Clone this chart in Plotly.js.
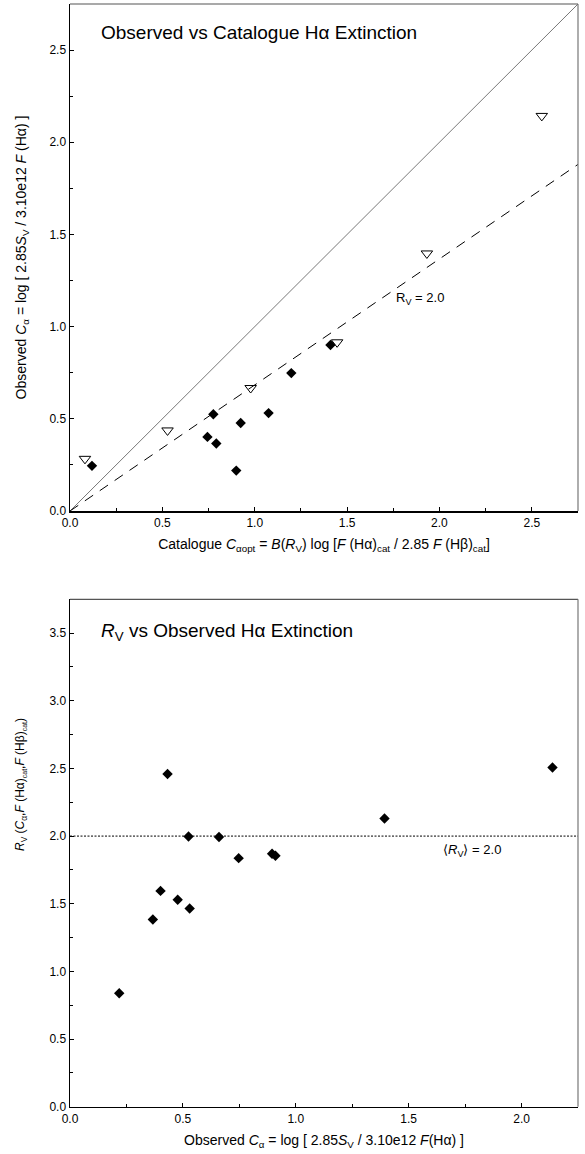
<!DOCTYPE html>
<html>
<head>
<meta charset="utf-8">
<script src="https://cdn.plot.ly/plotly-3.0.1.min.js"></script>
<style>html,body{margin:0;padding:0;background:#fff}#chart{width:585px;height:1154px}</style>
</head>
<body>
<div id="chart"></div>
<script>
// ---- Top panel: Observed vs Catalogue Hα extinction ----
const catDiamondX = [0.119, 0.776, 0.744, 0.792, 0.924, 0.900, 1.075, 1.198, 1.410];
const obsDiamondY = [0.245, 0.525, 0.402, 0.366, 0.477, 0.219, 0.531, 0.748, 0.900];
const catTriangleX = [0.081, 0.528, 0.978, 1.446, 1.932, 2.554];
const obsTriangleY = [0.283, 0.437, 0.667, 0.915, 1.397, 2.143];
const unityLineX = [0, 2.75];
const unityLineY = [0, 2.75];
const rv2LineX = [0, 2.75];
const rv2LineY = [0, 1.88];
const rv2Label = "R<sub>V</sub> = 2.0";
const rv2LabelPos = [1.756, 1.152];

// ---- Bottom panel: R_V vs observed Hα extinction ----
const obsCalpha = [0.218, 0.367, 0.401, 0.432, 0.477, 0.525, 0.530, 0.660, 0.747, 0.895, 0.910, 1.393, 2.137];
const rvValues  = [0.839, 1.383, 1.595, 2.459, 1.529, 1.997, 1.465, 1.993, 1.837, 1.870, 1.855, 2.130, 2.507];
const meanRvX = [0, 2.25];
const meanRvY = [2.0, 2.0];
const meanRvLabel = "⟨<i>R</i><sub>V</sub>⟩ = 2.0";
const meanRvLabelPos = [1.643, 1.891];

const topTitle = "Observed vs Catalogue Hα Extinction";
const bottomTitle = "<i>R</i><sub>V</sub> vs Observed Hα Extinction";
const topXTitle = "Catalogue <i>C</i><sub>αopt</sub> = <i>B</i>(<i>R</i><sub>V</sub>) log [<i>F</i> (Hα)<sub>cat</sub> / 2.85 <i>F</i> (Hβ)<sub>cat</sub>]";
const topYTitle = "Observed <i>C</i><sub>α</sub> = log [ 2.85<i>S</i><sub>V</sub> / 3.10e12 <i>F</i> (Hα) ]";
const bottomXTitle = "Observed <i>C</i><sub>α</sub> = log [ 2.85<i>S</i><sub>V</sub> / 3.10e12 <i>F</i>(Hα) ]";
const bottomYTitle = "<i>R</i><sub>V</sub> (<i>C</i><sub>α</sub>,<i>F</i> (Hα)<sub><span style=\"font-size:7px\">cat</span></sub>,<i>F</i> (Hβ)<sub><span style=\"font-size:7px\">cat</span></sub>)";

const FONT = "Liberation Sans, Arial, Helvetica, sans-serif";
const W = 585, H = 1154;

const traces = [
  {x: unityLineX, y: unityLineY, xaxis: 'x', yaxis: 'y', mode: 'lines',
   line: {color: '#555', width: 0.8}, hoverinfo: 'skip'},
  {x: rv2LineX, y: rv2LineY, xaxis: 'x', yaxis: 'y', mode: 'lines',
   line: {color: '#000', width: 1, dash: '10px,8px'}, hoverinfo: 'skip'},
  {x: catTriangleX, y: obsTriangleY, xaxis: 'x', yaxis: 'y', mode: 'markers',
   marker: {symbol: 'triangle-down-open', size: 10, color: '#000', line: {width: 1, color: '#000'}}},
  {x: catDiamondX, y: obsDiamondY, xaxis: 'x', yaxis: 'y', mode: 'markers',
   marker: {symbol: 'diamond', size: 8, color: '#000'}},
  {x: meanRvX, y: meanRvY, xaxis: 'x2', yaxis: 'y2', mode: 'lines',
   line: {color: '#000', width: 1, dash: '2px,1.5px'}, hoverinfo: 'skip'},
  {x: obsCalpha, y: rvValues, xaxis: 'x2', yaxis: 'y2', mode: 'markers',
   marker: {symbol: 'diamond', size: 8, color: '#000'}}
];

function axis(extra) {
  return Object.assign({
    showgrid: false, zeroline: false, showline: true, mirror: false,
    linecolor: '#000', linewidth: 1.5,
    ticks: 'inside', ticklen: 4, tickwidth: 1, tickcolor: '#000',
    dtick: 0.5, tick0: 0, tickformat: '.1f',
    minor: {dtick: 0.25, ticks: 'inside', ticklen: 3, tickwidth: 1, tickcolor: '#000'},
    tickfont: {family: FONT, size: 12, color: '#000'},
    automargin: false, fixedrange: true
  }, extra);
}

function frameShapes(xa, ya) {
  return [
    {type: 'line', xref: xa + ' domain', yref: ya + ' domain', x0: 0, x1: 1, y0: 1, y1: 1,
     line: {color: '#555', width: 1.2}},
    {type: 'line', xref: xa + ' domain', yref: ya + ' domain', x0: 1, x1: 1, y0: 0, y1: 1,
     line: {color: '#777', width: 1.2}}
  ];
}

const xDom = [70 / W, 578 / W];
const layout = {
  width: W, height: H,
  margin: {l: 0, r: 0, t: 0, b: 0},
  paper_bgcolor: '#fff', plot_bgcolor: '#fff',
  showlegend: false,
  font: {family: FONT, color: '#000'},
  xaxis: axis({domain: xDom, range: [0, 2.75], anchor: 'y',
    title: {text: topXTitle, font: {family: FONT, size: 14}, standoff: 10}}),
  yaxis: axis({domain: [1 - 511 / H, 1 - 4 / H], range: [0, 2.75], anchor: 'x',
    title: {text: topYTitle, font: {family: FONT, size: 14}, standoff: 19}}),
  xaxis2: axis({domain: xDom, range: [0, 2.25], anchor: 'y2',
    title: {text: bottomXTitle, font: {family: FONT, size: 14}, standoff: 10}}),
  yaxis2: axis({domain: [1 - 1106.7 / H, 1 - 599.3 / H], range: [0, 3.75], anchor: 'x2'}),
  shapes: frameShapes('x', 'y').concat(frameShapes('x2', 'y2')),
  annotations: [
    {text: topTitle, xref: 'paper', yref: 'paper', x: 99 / W, y: 1 - 33 / H,
     xanchor: 'left', yanchor: 'middle', showarrow: false, font: {family: FONT, size: 19}},
    {text: bottomTitle, xref: 'paper', yref: 'paper', x: 99 / W, y: 1 - 632 / H,
     xanchor: 'left', yanchor: 'middle', showarrow: false, font: {family: FONT, size: 19}},
    {text: rv2Label, xref: 'x', yref: 'y', x: rv2LabelPos[0], y: rv2LabelPos[1],
     xanchor: 'left', yanchor: 'middle', showarrow: false, font: {family: FONT, size: 13}},
    {text: meanRvLabel, xref: 'x2', yref: 'y2', x: meanRvLabelPos[0], y: meanRvLabelPos[1],
     xanchor: 'left', yanchor: 'middle', showarrow: false, font: {family: FONT, size: 13}},
    {text: bottomYTitle, xref: 'paper', yref: 'paper', x: 21 / W, y: 1 - 785 / H,
     xanchor: 'center', yanchor: 'middle', textangle: -90, showarrow: false,
     font: {family: FONT, size: 12}}
  ]
};

Plotly.newPlot('chart', traces, layout, {displayModeBar: false, staticPlot: true});
</script>
</body>
</html>
